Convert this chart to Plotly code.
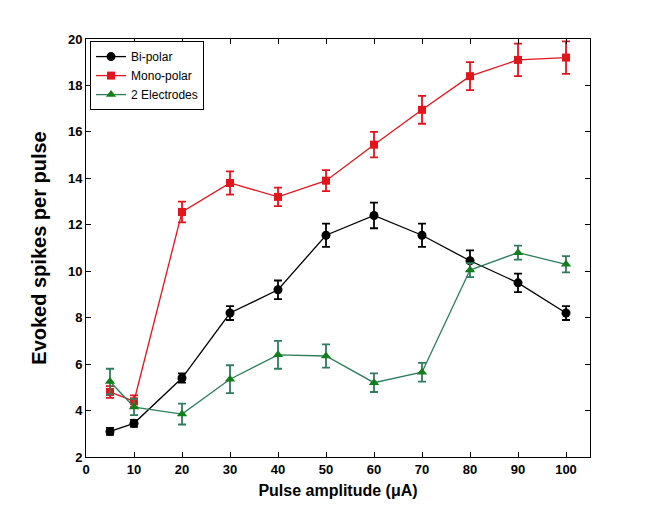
import plotly.graph_objects as go

amplitude = [5, 10, 20, 30, 40, 50, 60, 70, 80, 90, 100]

bipolar = [3.1, 3.45, 5.4, 8.2, 9.2, 11.55, 12.4, 11.55, 10.45, 9.5, 8.2]
bipolar_err = [0.15, 0.15, 0.2, 0.3, 0.4, 0.5, 0.55, 0.5, 0.45, 0.4, 0.3]

monopolar = [4.8, 4.4, 12.55, 13.8, 13.2, 13.9, 15.45, 16.95, 18.4, 19.1, 19.2]
monopolar_err = [0.25, 0.25, 0.45, 0.5, 0.4, 0.45, 0.55, 0.6, 0.6, 0.7, 0.7]

two_electrodes = [5.25, 4.15, 3.85, 5.35, 6.4, 6.35, 5.2, 5.65, 10.05, 10.8, 10.3]
two_electrodes_err = [0.55, 0.35, 0.45, 0.6, 0.6, 0.5, 0.4, 0.4, 0.3, 0.3, 0.35]

x_ticks = [0, 10, 20, 30, 40, 50, 60, 70, 80, 90, 100]
y_ticks = [2, 4, 6, 8, 10, 12, 14, 16, 18, 20]

font_family = "Liberation Sans, Arial, sans-serif"

fig = go.Figure()

series = [
    ("Bi-polar", bipolar, bipolar_err, "black", "black", "circle", 9),
    ("Mono-polar", monopolar, monopolar_err, "#e3151c", "#e3151c", "square", 8),
    ("2 Electrodes", two_electrodes, two_electrodes_err, "#2e7d5b", "#12801a", "triangle-up", 9),
]

for name, vals, errs, lcol, mcol, sym, msize in series:
    fig.add_trace(go.Scatter(
        x=amplitude, y=vals, name=name, mode="lines+markers",
        line=dict(color=lcol, width=1.3),
        marker=dict(symbol=sym, size=msize, color=mcol),
        error_y=dict(type="data", array=errs, visible=True, color=lcol,
                     thickness=1.8, width=4),
    ))

axis_common = dict(
    showline=True, linecolor="black", linewidth=1, mirror="ticks",
    ticks="inside", ticklen=5, tickcolor="black", showgrid=False, zeroline=False,
    tickfont=dict(family=font_family, size=13, color="black", weight="bold"),
)

fig.update_layout(
    width=654, height=517,
    paper_bgcolor="white", plot_bgcolor="white",
    margin=dict(l=78, r=72, t=31, b=68),
    xaxis=dict(range=[0, 105], tickvals=x_ticks,
               title=dict(text="<b>Pulse amplitude (μA)</b>", standoff=9,
                          font=dict(family=font_family, size=16, color="black")),
               **axis_common),
    yaxis=dict(range=[2, 20], tickvals=y_ticks,
               title=dict(text="<b>Evoked spikes per pulse</b>", standoff=15,
                          font=dict(family=font_family, size=20, color="black")),
               **axis_common),
    legend=dict(x=0.008, y=0.995, xanchor="left", yanchor="top",
                bgcolor="white", bordercolor="black", borderwidth=1,
                font=dict(family=font_family, size=12, color="black"),
                tracegroupgap=0, itemwidth=30),
    showlegend=True,
)

fig.write_html("out.html")
